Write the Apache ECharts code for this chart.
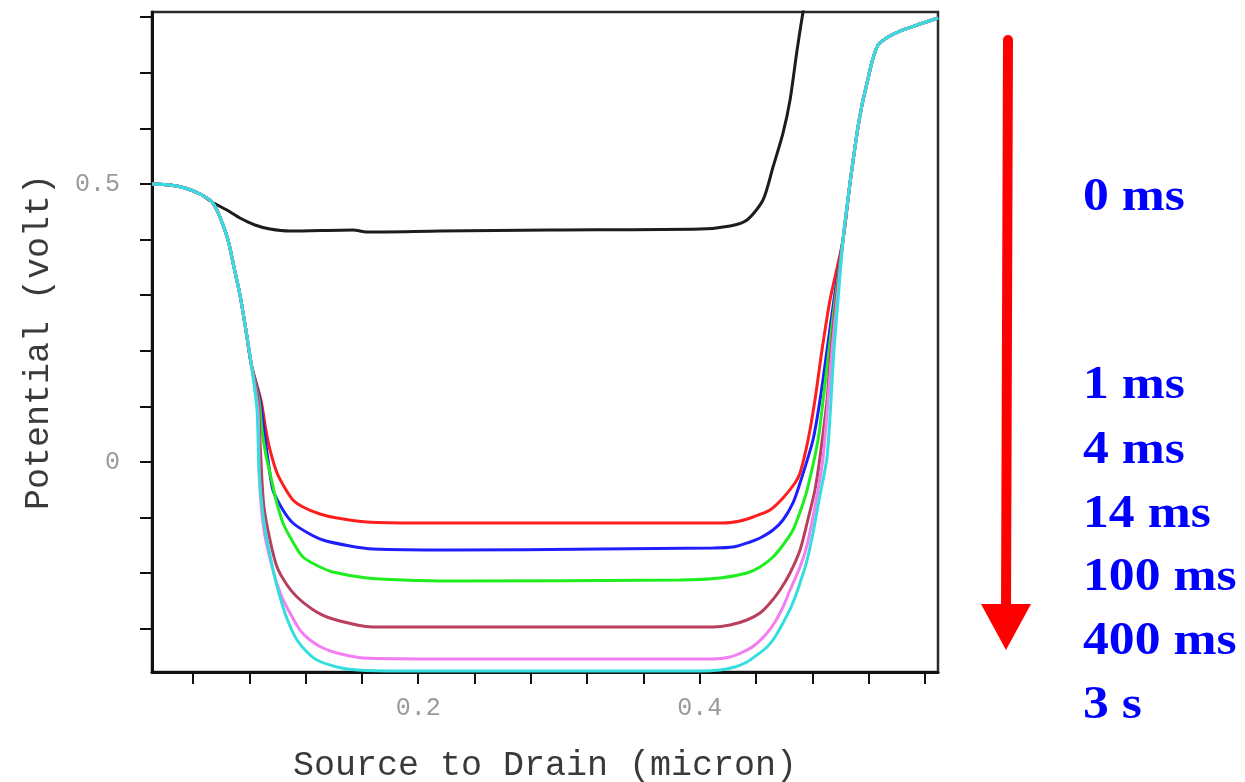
<!DOCTYPE html>
<html>
<head>
<meta charset="utf-8">
<script src="https://cdn.jsdelivr.net/npm/echarts@6/dist/echarts.min.js"></script>
<style>
  html, body { margin: 0; padding: 0; background: #ffffff; }
  #chart { width: 1245px; height: 782px; }
</style>
</head>
<body>
<div id="chart"></div>
<script>
// Surface potential along the channel, source (left) to drain (right),
// after increasing stress times.
const timeLabels = ['0 ms', '1 ms', '4 ms', '14 ms', '100 ms', '400 ms', '3 s'];

// Tick positions and labelled ticks
const xTicks = [0.04, 0.08, 0.12, 0.16, 0.20, 0.24, 0.28, 0.32, 0.36, 0.40, 0.44, 0.48, 0.52, 0.56];
const xTickLabels = [0.2, 0.4];
const yTicks = [-0.3, -0.2, -0.1, 0, 0.1, 0.2, 0.3, 0.4, 0.5, 0.6, 0.7, 0.8];
const yTickLabels = [0, 0.5];

// Source-side shoulder shared by every curve
const sourceShoulder = [
  [0.0109, 0.5000], [0.0237, 0.4982], [0.0343, 0.4928], [0.0450, 0.4820], [0.0535, 0.4676]
];

// Steep drop shared by the stressed curves before they separate
const sourceDrop = [
  [0.0592, 0.4406], [0.0649, 0.3993], [0.0691, 0.3507], [0.0734, 0.3004],
  [0.0776, 0.2374], [0.0815, 0.1745]
];

// Drain-side rise shared by the stressed curves
const drainRise = [
  [0.5017, 0.3993], [0.5067, 0.5018], [0.5117, 0.5917], [0.5152, 0.6421],
  [0.5188, 0.6817], [0.5223, 0.7194], [0.5266, 0.7500], [0.5337, 0.7644],
  [0.5422, 0.7752], [0.5564, 0.7878], [0.5692, 0.7986]
];

// 0 ms (fresh device)
const curve0ms = [
  [0.0641, 0.4532], [0.0734, 0.4388], [0.0840, 0.4263], [0.0947, 0.4191],
  [0.1089, 0.4155], [0.1537, 0.4173], [0.1636, 0.4137], [0.2155, 0.4155],
  [0.2936, 0.4173], [0.4002, 0.4191], [0.4215, 0.4245], [0.4335, 0.4353],
  [0.4449, 0.4712], [0.4520, 0.5306], [0.4591, 0.5917], [0.4641, 0.6511],
  [0.4691, 0.7410], [0.4733, 0.8094], [0.4762, 0.8490]
];

// 1 ms
const curve1ms = [
  [0.0883, 0.1115], [0.0918, 0.0576], [0.0947, 0.0216], [0.0997, -0.0198],
  [0.1053, -0.0468], [0.1110, -0.0683], [0.1181, -0.0809], [0.1302, -0.0935],
  [0.1423, -0.1007], [0.1636, -0.1079], [0.2013, -0.1097], [0.3291, -0.1097],
  [0.4165, -0.1097], [0.4286, -0.1061], [0.4378, -0.0989], [0.4499, -0.0863],
  [0.4591, -0.0647], [0.4676, -0.0378], [0.4712, -0.0198], [0.4769, 0.0396],
  [0.4818, 0.1115], [0.4868, 0.2014], [0.4925, 0.2914]
];

// 4 ms
const curve4ms = [
  [0.0876, 0.1115], [0.0904, 0.0576], [0.0933, 0.0036], [0.0968, -0.0504],
  [0.1039, -0.0863], [0.1110, -0.1097], [0.1217, -0.1277], [0.1323, -0.1403],
  [0.1515, -0.1511], [0.1679, -0.1565], [0.2226, -0.1583], [0.3291, -0.1565],
  [0.4094, -0.1547], [0.4236, -0.1529], [0.4357, -0.1439], [0.4428, -0.1367],
  [0.4520, -0.1223], [0.4591, -0.1043], [0.4662, -0.0737], [0.4712, -0.0378],
  [0.4804, 0.0396], [0.4854, 0.1115], [0.4904, 0.2014], [0.4953, 0.2914]
];

// 14 ms
const curve14ms = [
  [0.0869, 0.1115], [0.0890, 0.0576], [0.0918, 0.0126], [0.0947, -0.0198],
  [0.0990, -0.0683], [0.1039, -0.1097], [0.1110, -0.1439], [0.1181, -0.1709],
  [0.1288, -0.1871], [0.1394, -0.1978], [0.1636, -0.2086], [0.1892, -0.2122],
  [0.2226, -0.2140], [0.3860, -0.2122], [0.4144, -0.2086], [0.4335, -0.1996],
  [0.4428, -0.1889], [0.4520, -0.1709], [0.4591, -0.1493], [0.4662, -0.1223],
  [0.4712, -0.0899], [0.4762, -0.0504], [0.4840, 0.0396], [0.4876, 0.1115],
  [0.4918, 0.2014], [0.4961, 0.2914]
];

// 100 ms
const curve100ms = [
  [0.0862, 0.1115], [0.0876, 0.0396], [0.0890, -0.0324], [0.0904, -0.0809],
  [0.0947, -0.1403], [0.0997, -0.1889], [0.1068, -0.2212], [0.1139, -0.2428],
  [0.1245, -0.2644], [0.1352, -0.2788], [0.1565, -0.2932], [0.1679, -0.2968],
  [0.2226, -0.2968], [0.4094, -0.2968], [0.4215, -0.2932], [0.4335, -0.2842],
  [0.4428, -0.2716], [0.4499, -0.2536], [0.4570, -0.2302], [0.4641, -0.1996],
  [0.4712, -0.1583], [0.4762, -0.1097], [0.4818, -0.0504], [0.4854, 0.0090],
  [0.4904, 0.1115], [0.4932, 0.2014], [0.4968, 0.2914]
];

// 400 ms
const curve400ms = [
  [0.0862, 0.0935], [0.0872, -0.0324], [0.0904, -0.1223], [0.0968, -0.1942],
  [0.1025, -0.2392], [0.1089, -0.2716], [0.1160, -0.3022], [0.1231, -0.3201],
  [0.1323, -0.3345], [0.1423, -0.3435], [0.1608, -0.3525], [0.2226, -0.3543],
  [0.4094, -0.3543], [0.4215, -0.3507], [0.4307, -0.3417], [0.4392, -0.3291],
  [0.4478, -0.3076], [0.4534, -0.2878], [0.4591, -0.2608], [0.4641, -0.2302],
  [0.4712, -0.1889], [0.4762, -0.1493], [0.4804, -0.0989], [0.4840, -0.0504],
  [0.4876, 0.0090], [0.4911, 0.1115], [0.4939, 0.2014], [0.4975, 0.2914]
];

// 3 s
const curve3s = [
  [0.0855, 0.0935], [0.0869, -0.0144], [0.0893, -0.0863], [0.0926, -0.1403],
  [0.0982, -0.2086], [0.1039, -0.2608], [0.1089, -0.2950], [0.1139, -0.3201],
  [0.1210, -0.3417], [0.1281, -0.3561], [0.1423, -0.3687], [0.1565, -0.3741],
  [0.1870, -0.3759], [0.4002, -0.3759], [0.4144, -0.3741], [0.4250, -0.3687],
  [0.4335, -0.3597], [0.4406, -0.3471], [0.4478, -0.3327], [0.4534, -0.3148],
  [0.4591, -0.2896], [0.4655, -0.2572], [0.4712, -0.2176], [0.4762, -0.1763],
  [0.4804, -0.1277], [0.4854, -0.0594], [0.4904, 0.0090], [0.4932, 0.1115],
  [0.4953, 0.2014], [0.4982, 0.2914]
];

const stressedCurves = [curve1ms, curve4ms, curve14ms, curve100ms, curve400ms, curve3s];
const lineColors = ['#1c1c1c', '#ff1e1e', '#1e1eff', '#1eee1e', '#b8405e', '#f27ef2', '#34dede'];

const curveData = [sourceShoulder.concat(curve0ms)].concat(
  stressedCurves.map(c => sourceShoulder.concat(sourceDrop, c, drainRise))
);

const monoFont = '"Liberation Mono", "DejaVu Sans Mono", monospace';

const chart = echarts.init(document.getElementById('chart'), null, { renderer: 'canvas' });

const labelTop = [198, 386, 451, 515, 578, 642, 706];

chart.setOption({
  animation: false,
  backgroundColor: '#ffffff',
  grid: {
    left: 152, top: 12, width: 786, height: 660,
    containLabel: false,
    outerBoundsMode: 'none',
    show: true, borderColor: '#2a2a2a', borderWidth: 2.5, backgroundColor: 'transparent'
  },
  xAxis: {
    type: 'value',
    min: 0.0109, max: 0.5692,
    name: 'Source to Drain (micron)',
    nameLocation: 'middle',
    nameGap: 76,
    nameTextStyle: { fontFamily: monoFont, fontSize: 35, color: '#3a3a3a' },
    axisLine: { show: true, onZero: false, lineStyle: { color: '#111', width: 3 } },
    axisTick: { show: true, inside: false, length: 12, customValues: xTicks, lineStyle: { color: '#111', width: 2 } },
    axisLabel: { customValues: xTickLabels, margin: 24, fontFamily: monoFont, fontSize: 25, color: '#9a9a9a' },
    splitLine: { show: false }
  },
  yAxis: {
    type: 'value',
    min: -0.3777, max: 0.8094,
    name: 'Potential (volt)',
    nameLocation: 'middle',
    nameRotate: 90,
    nameGap: 96,
    nameTextStyle: { fontFamily: monoFont, fontSize: 35, color: '#3a3a3a' },
    axisLine: { show: true, onZero: false, lineStyle: { color: '#111', width: 3 } },
    axisTick: { show: true, inside: false, length: 12, customValues: yTicks, lineStyle: { color: '#111', width: 2 } },
    axisLabel: { customValues: yTickLabels, margin: 32, fontFamily: monoFont, fontSize: 25, color: '#9a9a9a' },
    splitLine: { show: false }
  },
  series: curveData.map((d, i) => ({
    type: 'line',
    name: timeLabels[i],
    data: d,
    symbol: 'none',
    showSymbol: false,
    smooth: 0.25,
    clip: true,
    z: 2 + i,
    lineStyle: { color: lineColors[i], width: 3 }
  })),
  graphic: [
    // downward arrow: increasing stress time
    {
      type: 'line', z: 10,
      shape: { x1: 1008, y1: 40, x2: 1006, y2: 612 },
      style: { stroke: '#ff0000', lineWidth: 10, lineCap: 'round' }
    },
    {
      type: 'polygon', z: 10,
      shape: { points: [[981, 604], [1031, 604], [1006, 650]] },
      style: { fill: '#ff0000' }
    }
  ].concat(timeLabels.map((t, i) => ({
    type: 'text', z: 10,
    x: 1083, y: labelTop[i],
    scaleX: 1.1,
    style: {
      text: t,
      x: 0, y: 0,
      fill: '#0000ff',
      font: 'bold 47px "Liberation Serif", "DejaVu Serif", serif',
      textAlign: 'left',
      textVerticalAlign: 'middle'
    }
  })))
});
</script>
</body>
</html>
